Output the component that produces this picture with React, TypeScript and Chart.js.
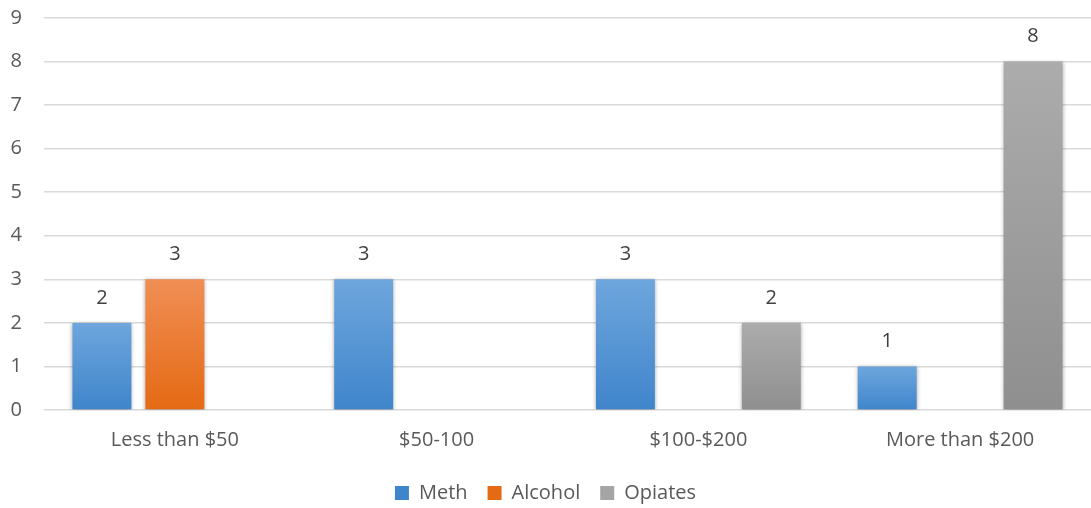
import React, { useEffect, useRef } from "react";
import { Chart, registerables } from "chart.js";

Chart.register(...registerables);

const categories = ["Less than $50", "$50-100", "$100-$200", "More than $200"];
const methValues = [2, 3, 3, 1];
const alcoholValues = [3, null, null, null];
const opiatesValues = [null, null, 2, 8];
const yTicks = [0, 1, 2, 3, 4, 5, 6, 7, 8, 9];

const FONT = "'Open Sans', 'Noto Sans', sans-serif";

function gradientFill(top: string, bottom: string, fallback: string) {
  return (ctx: any) => {
    const chart = ctx.chart;
    const y = chart.scales?.y;
    const v = ctx.raw;
    if (!y || v == null || ctx.type !== "data") return fallback;
    const yTop = y.getPixelForValue(v);
    const yBase = y.getPixelForValue(0);
    if (!isFinite(yTop) || !isFinite(yBase) || yTop === yBase) return fallback;
    const g = chart.ctx.createLinearGradient(0, yTop, 0, yBase);
    g.addColorStop(0, top);
    g.addColorStop(1, bottom);
    return g;
  };
}

const shadowPlugin = {
  id: "barShadow",
  beforeDatasetsDraw(chart: any) {
    const c = chart.ctx;
    c.save();
    c.shadowColor = "rgba(0,0,0,0.35)";
    c.shadowBlur = 4;
    c.shadowOffsetX = 0;
    c.shadowOffsetY = 1;
  },
  afterDatasetsDraw(chart: any) {
    chart.ctx.restore();
  },
};

const labelPlugin = {
  id: "valueLabels",
  afterDatasetsDraw(chart: any) {
    const c = chart.ctx;
    c.save();
    c.font = `20px ${FONT}`;
    c.fillStyle = "#404040";
    c.textAlign = "center";
    c.textBaseline = "middle";
    chart.data.datasets.forEach((ds: any, di: number) => {
      const meta = chart.getDatasetMeta(di);
      meta.data.forEach((el: any, i: number) => {
        const v = ds.data[i];
        if (v == null) return;
        c.fillText(String(v), el.x, el.y - 25);
      });
    });
    c.restore();
  },
};

export default function App() {
  const ref = useRef<HTMLCanvasElement | null>(null);

  useEffect(() => {
    document.body.style.margin = "0";
    if (!ref.current) return;
    const chart = new Chart(ref.current, {
      type: "bar",
      data: {
        labels: categories,
        datasets: [
          {
            label: "Meth",
            data: methValues,
            backgroundColor: gradientFill("#6ea6dd", "#3f85cb", "#5b9bd5"),
            categoryPercentage: 0.836,
            barPercentage: 0.808,
          },
          {
            label: "Alcohol",
            data: alcoholValues,
            backgroundColor: gradientFill("#f08e55", "#e56a14", "#ed7d31"),
            categoryPercentage: 0.836,
            barPercentage: 0.808,
          },
          {
            label: "Opiates",
            data: opiatesValues,
            backgroundColor: gradientFill("#acacac", "#8f8f8f", "#a5a5a5"),
            categoryPercentage: 0.836,
            barPercentage: 0.808,
          },
        ],
      },
      options: {
        animation: false,
        responsive: false,
        maintainAspectRatio: false,
        layout: { padding: { left: 0, right: 0, top: 18, bottom: -5 } },
        scales: {
          x: {
            grid: { display: false, drawTicks: false },
            border: { display: false },
            ticks: {
              color: "#595959",
              font: { family: FONT, size: 20 },
              padding: 18,
            },
            afterFit: (axis: any) => {
              axis.height = 53;
            },
          },
          y: {
            min: 0,
            max: 9,
            afterBuildTicks: (axis: any) => {
              axis.ticks = yTicks.map((v) => ({ value: v }));
            },
            grid: { color: "#d9d9d9", lineWidth: 1.5, drawTicks: false },
            border: { display: false },
            ticks: {
              color: "#595959",
              font: { family: FONT, size: 20 },
              padding: 22,
            },
            afterFit: (axis: any) => {
              axis.width = 44;
              axis.paddingTop = 0;
              axis.paddingBottom = 0;
            },
          },
        },
        plugins: {
          legend: {
            position: "bottom",
            labels: {
              color: "#595959",
              font: { family: FONT, size: 20 },
              boxWidth: 14,
              boxHeight: 14,
              padding: 20,
            },
          },
          tooltip: { enabled: false },
        },
      },
      plugins: [shadowPlugin, labelPlugin],
    });
    return () => chart.destroy();
  }, []);

  return (
    <div style={{ width: 1091, height: 508, background: "#fff" }}>
      <canvas ref={ref} width={1091} height={508} />
    </div>
  );
}
